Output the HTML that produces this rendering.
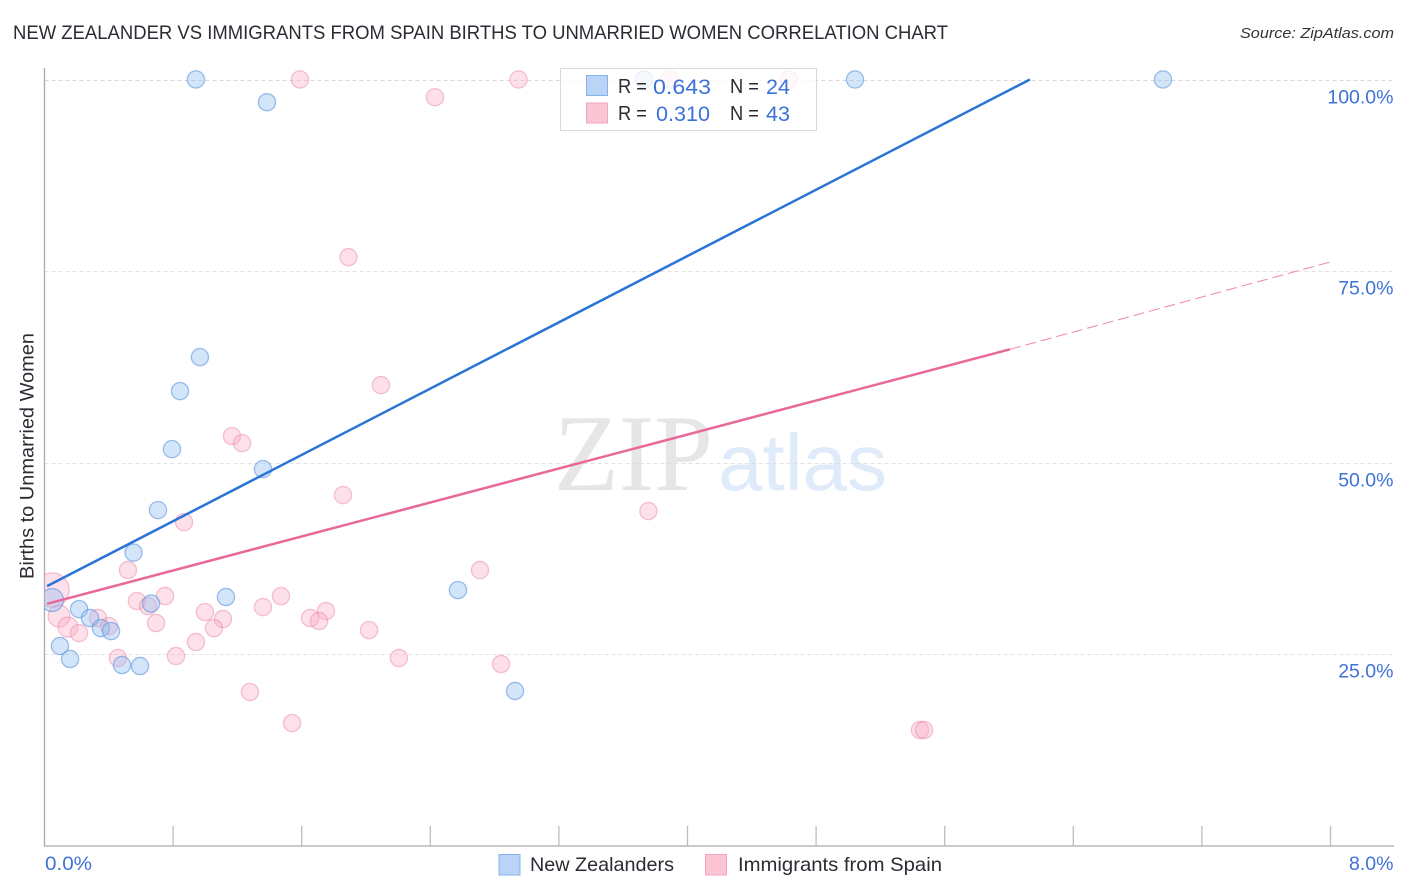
<!DOCTYPE html>
<html lang="en">
<head>
<meta charset="utf-8">
<title>New Zealander vs Immigrants from Spain Births to Unmarried Women Correlation Chart</title>
<style>
html,body{margin:0;padding:0;background:#fff;}
svg{display:block;font-family:"Liberation Sans",sans-serif;}
</style>
</head>
<body>
<svg id="chart" width="1406" height="892" viewBox="0 0 1406 892" xmlns="http://www.w3.org/2000/svg">
  <defs><clipPath id="plot-clip"><rect x="44.5" y="60" width="1350" height="786"/></clipPath></defs>
  <rect x="0" y="0" width="1406" height="892" fill="#ffffff"/>
  <text x="13" y="39" font-size="19.5" fill="#2b2b33" textLength="935" lengthAdjust="spacingAndGlyphs">NEW ZEALANDER VS IMMIGRANTS FROM SPAIN BIRTHS TO UNMARRIED WOMEN CORRELATION CHART</text>
  <text x="1394" y="38" font-size="15" font-style="italic" fill="#33333a" text-anchor="end" textLength="154" lengthAdjust="spacingAndGlyphs">Source: ZipAtlas.com</text>
  <g>
    <text x="554" y="490" font-family="'Liberation Serif',serif" font-size="109" fill="#e6e6e6" textLength="159" lengthAdjust="spacingAndGlyphs">ZIP</text>
    <text x="718" y="490" font-size="80" fill="#dfeafa" textLength="169" lengthAdjust="spacingAndGlyphs">atlas</text>
  </g>
  <g id="grid"></g>
  <g id="axes"></g>
  <g id="marks-pink" clip-path="url(#plot-clip)"></g>
  <g id="marks-blue" clip-path="url(#plot-clip)"></g>
  <g id="lines"></g>
  <text transform="translate(33.5,456) rotate(-90)" font-size="19.5" fill="#2b2b33" text-anchor="middle" textLength="246" lengthAdjust="spacingAndGlyphs">Births to Unmarried Women</text>
  <g>
    <rect x="560.5" y="68.5" width="256" height="62" fill="#ffffff" fill-opacity="0.78" stroke="#d9d9d9" stroke-width="1"/>
    <rect x="586.5" y="75.5" width="21" height="20" fill="#b9d4f7" stroke="#86b2ea"/>
    <rect x="586.5" y="103" width="21" height="20" fill="#fcc5d6" stroke="#f2a5bd"/>
    <text x="618" y="93" font-size="20" fill="#2b2b33" textLength="29" lengthAdjust="spacingAndGlyphs">R =</text>
    <text x="653" y="94" font-size="21.5" fill="#3a72d8" textLength="58" lengthAdjust="spacingAndGlyphs">0.643</text>
    <text x="730" y="93" font-size="20" fill="#2b2b33" textLength="29" lengthAdjust="spacingAndGlyphs">N =</text>
    <text x="766" y="94" font-size="21.5" fill="#3a72d8" textLength="24" lengthAdjust="spacingAndGlyphs">24</text>
    <text x="618" y="120" font-size="20" fill="#2b2b33" textLength="29" lengthAdjust="spacingAndGlyphs">R =</text>
    <text x="656" y="121" font-size="21.5" fill="#3a72d8" textLength="54" lengthAdjust="spacingAndGlyphs">0.310</text>
    <text x="730" y="120" font-size="20" fill="#2b2b33" textLength="29" lengthAdjust="spacingAndGlyphs">N =</text>
    <text x="766" y="121" font-size="21.5" fill="#3a72d8" textLength="24" lengthAdjust="spacingAndGlyphs">43</text>
  </g>
  <g>
    <rect x="499" y="854.5" width="21" height="20.5" fill="#b9d4f7" stroke="#86b2ea"/>
    <text x="530" y="871" font-size="19.5" fill="#2b2b33" textLength="144" lengthAdjust="spacingAndGlyphs">New Zealanders</text>
    <rect x="705.5" y="854.5" width="21" height="20.5" fill="#fcc5d6" stroke="#f2a5bd"/>
    <text x="738" y="871" font-size="19.5" fill="#2b2b33" textLength="204" lengthAdjust="spacingAndGlyphs">Immigrants from Spain</text>
  </g>
</svg>
<script>
const xTickValues = [0, 0.8, 1.6, 2.4, 3.2, 4.0, 4.8, 5.6, 6.4, 7.2, 8.0];
const xEdgeLabels = ["0.0%", "8.0%"];
const yTickValues = [100, 75, 50, 25];
const yTickLabels = ["100.0%", "75.0%", "50.0%", "25.0%"];

const blueX = [0.942,1.384,3.729,5.042,6.958,0.967,0.843,0.793,1.359,0.706,0.554,1.129,0.663,2.572,0.047,0.215,0.283,0.351,0.414,0.096,0.159,0.482,0.594,2.927];
const blueY = [100,97.04,100,100,100,63.78,59.35,51.78,49.17,43.82,38.28,32.48,31.63,33.39,32.09,30.91,29.74,28.43,28.04,26.09,24.39,23.61,23.48,20.22];
const blueWeight = [1,1,1,1,1,1,1,1,1,1,1,1,1,1,1.78,1,1,1,1,1,1,1,1,1];

const pinkX = [1.589,2.949,2.429,3.891,4.631,1.891,2.093,1.166,1.229,1.857,0.868,3.757,2.709,0.519,0.047,0.575,0.644,0.75,1.471,1.359,1.751,0.998,1.11,0.694,1.652,1.708,1.054,2.019,0.09,0.146,0.215,0.333,0.401,0.942,0.818,0.457,2.205,2.84,1.278,1.54,5.446,5.471];
const pinkY = [100,100,97.69,100,100,76.82,60.13,53.48,52.56,45.78,42.26,43.69,36,36,33.39,31.96,31.3,32.61,32.61,31.17,30.65,30.52,29.61,29.09,29.74,29.35,28.43,28.17,30,28.56,27.78,29.74,28.69,26.61,24.78,24.52,24.52,23.74,20.09,16.04,15.13,15.13];
const pinkWeight = [1,1,1,1,1,1,1,1,1,1,1,1,1,1,4,1,1,1,1,1,1,1,1,1,1,1,1,1,1.63,1.36,1,1,1,1,1,1,1,1,1,1,1,1];

const blueTrendX = [0.016, 6.13];
const blueTrendY = [33.9, 100];
const pinkTrendX = [0.016, 6.006];
const pinkTrendY = [31.6, 64.8];
const pinkTrendExtX = [6.006, 8.0];
const pinkTrendExtY = [64.8, 76.2];

const SVGNS = "http://www.w3.org/2000/svg";
function xScale(v){ return 44.5 + v * 160.75; }
function yScale(v){ return 846 - v * 7.665; }
function make(tag, attrs, parent){
  const el = document.createElementNS(SVGNS, tag);
  for (const k in attrs) el.setAttribute(k, attrs[k]);
  parent.appendChild(el);
  return el;
}
const grid = document.getElementById("grid");
const axes = document.getElementById("axes");
const lines = document.getElementById("lines");

yTickValues.forEach(function(v, i){
  const y = Math.round(yScale(v)) + 0.5;
  const g = make("line", {x1:44.5, x2:1393, y1:y, y2:y, stroke: "#d8d8d8", "stroke-width":1, "stroke-dasharray":"4 3", "stroke-opacity": i === 0 ? 1 : 0.75}, grid);
  
  
  const t = make("text", {x:1393.5, y:y + 23, "font-size":19.5, fill:"#3f72d6", "text-anchor":"end"}, axes);
  t.textContent = yTickLabels[i];
  
  
});

const yAxis = make("line", {x1:44.5, x2:44.5, y1:68, y2:846.5, stroke:"#aaaaaa", "stroke-width":1.3}, axes);


const xAxis = make("line", {x1:44, x2:1394, y1:846, y2:846, stroke:"#aaaaaa", "stroke-width":1.3}, axes);



xTickValues.slice(1).forEach(function(v){
  const x = xScale(v);
  const tk = make("line", {x1:x, x2:x, y1:826, y2:846, stroke:"#bdbdbd", "stroke-width":1.3}, axes);
  
  
});
const x0 = make("text", {x:45, y:870, "font-size":19.5, fill:"#3f72d6", textLength:47, lengthAdjust:"spacingAndGlyphs"}, axes);
x0.textContent = xEdgeLabels[0];


const x1 = make("text", {x:1393.5, y:870, "font-size":19.5, fill:"#3f72d6", "text-anchor":"end"}, axes);
x1.textContent = xEdgeLabels[1];



const pinkGroup = document.getElementById("marks-pink");
pinkX.forEach(function(v, i){
  const c = make("circle", {cx:xScale(v), cy:yScale(pinkY[i]), r:8.6 * Math.sqrt(pinkWeight[i]), fill:"#f9a8c2", "fill-opacity":0.36, stroke:"#eb89a9", "stroke-opacity":0.5, "stroke-width":1.3}, pinkGroup);
  
  
});
const blueGroup = document.getElementById("marks-blue");
blueX.forEach(function(v, i){
  const c = make("circle", {cx:xScale(v), cy:yScale(blueY[i]), r:8.6 * Math.sqrt(blueWeight[i]), fill:"#92bdf0", "fill-opacity":0.4, stroke:"#5f95e0", "stroke-opacity":0.6, "stroke-width":1.3}, blueGroup);
  
  
});

const blueLine = make("line", {x1:xScale(blueTrendX[0]), y1:yScale(blueTrendY[0]), x2:xScale(blueTrendX[1]), y2:yScale(blueTrendY[1]), stroke:"#2a74d8", "stroke-width":2.5}, lines);


const pinkLine = make("line", {x1:xScale(pinkTrendX[0]), y1:yScale(pinkTrendY[0]), x2:xScale(pinkTrendX[1]), y2:yScale(pinkTrendY[1]), stroke:"#e8689a", "stroke-width":2.5}, lines);


const pinkExt = make("line", {x1:xScale(pinkTrendExtX[0]), y1:yScale(pinkTrendExtY[0]), x2:xScale(pinkTrendExtX[1]), y2:yScale(pinkTrendExtY[1]), stroke:"#e8689a", "stroke-width":1, "stroke-dasharray":"11 5", "stroke-opacity":0.8}, lines);


</script>
</body>
</html>
